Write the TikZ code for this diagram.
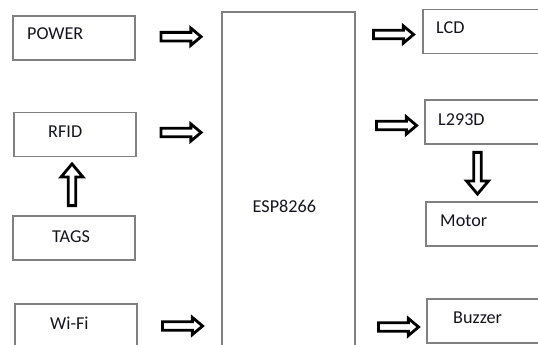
\documentclass[tikz,border=0pt]{standalone}
\usepackage{fontspec}
\setmainfont{Carlito}
\usetikzlibrary{shapes.arrows}
\definecolor{boxgray}{HTML}{808080}
\definecolor{txtblack}{HTML}{14141E}

\tikzset{
  blk/.style={draw=boxgray, line width=0.9pt, minimum width=3.66cm, minimum height=1.32cm, inner sep=0pt},
  lbl/.style={font=\fontsize{15.5}{18}\selectfont, text=txtblack, anchor=base west, inner sep=0pt},
  harrow/.style={single arrow, draw=black, fill=white, line width=2.4pt, inner sep=0pt,
    text height=5pt, text depth=0pt, minimum height=1.2cm,
    single arrow head extend=3.6pt, single arrow tip angle=80},
  varrow/.style={harrow, text height=4pt, single arrow head extend=6.2pt, minimum height=1.25cm}
}

\begin{document}
\begin{tikzpicture}[x=0.03cm, y=-0.03cm]
  \useasboundingbox (0,0) rectangle (538,345);
  \clip (0,0) rectangle (538,345);

  % ===== Left column =====
  \node[blk] (power) at (74,38) {};
  \node[lbl] (powertxt) at (27,40) {POWER};

  \node[blk] (rfid) at (75,134.5) {};
  \node[lbl] (rfidtxt) at (48,138) {RFID};

  \node[blk] (tags) at (74,238) {};
  \node[lbl] (tagstxt) at (52,242) {TAGS};

  \node[blk] (wifi) at (76,326) {};
  \node[lbl] (wifitxt) at (50,329) {Wi-Fi};

  % ===== Controller =====
  \node[blk, minimum width=3.99cm, minimum height=10.5cm] (esp) at (288.5,187) {};
  \node[lbl] (esptxt) at (252.5,213) {ESP8266};

  % ===== Right column =====
  \node[blk] (lcd) at (484,31.5) {};
  \node[lbl] (lcdtxt) at (436,34) {LCD};

  \node[blk] (driver) at (486,122) {};
  \node[lbl] (drivertxt) at (438,126) {L293D};

  \node[blk] (motor) at (487,224) {};
  \node[lbl] (motortxt) at (440,226) {Motor};

  \node[blk] (buzzer) at (488,321) {};
  \node[lbl] (buzzertxt) at (453,323) {Buzzer};

  % ===== Block arrows =====
  \node[harrow] (powerarr) at (178.5,36.7) {};
  \node[harrow] (rfidarr) at (178.5,132.5) {};
  \node[harrow] (wifiarr) at (180,326) {};
  \node[varrow, rotate=90] (tagsarr) at (72,187) {};

  \node[harrow] (lcdarr) at (391,34.5) {};
  \node[harrow] (driverarr) at (394,125.5) {};
  \node[harrow] (buzzerarr) at (396,327) {};
  \node[varrow, rotate=-90] (motorarr) at (477.5,171) {};
\end{tikzpicture}
\end{document}
